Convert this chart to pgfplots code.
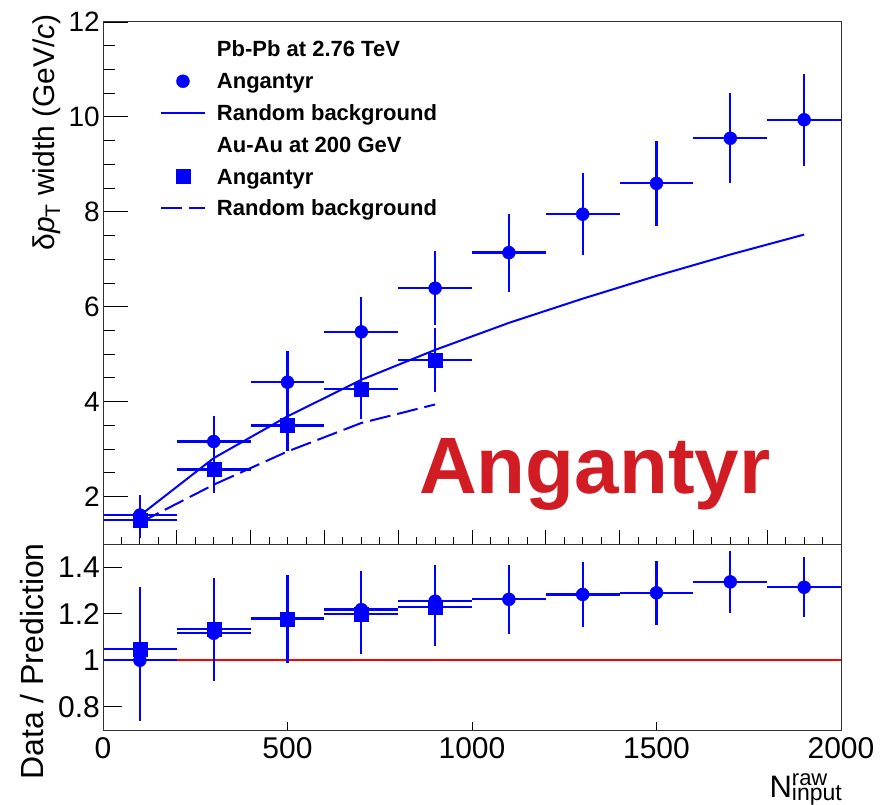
\documentclass[border=0pt]{standalone}
\usepackage{pgfplots}
\usepackage{pgfplotstable}
\pgfplotsset{compat=1.18}
\usepackage{fontspec}
\setmainfont{Liberation Sans}
\definecolor{angred}{RGB}{208,28,34}
\definecolor{framegray}{RGB}{50,50,50}

\pgfplotstableread{
x y ex ey
100 1.61 100 0.42
300 3.16 100 0.53
500 4.41 100 0.65
700 5.47 100 0.74
900 6.39 100 0.78
1100 7.14 100 0.82
1300 7.95 100 0.87
1500 8.60 100 0.90
1700 9.55 100 0.95
1900 9.94 100 0.97
}\pbpb

\pgfplotstableread{
x y ex ey
100 1.51 100 0.38
300 2.57 100 0.49
500 3.50 100 0.55
700 4.27 100 0.63
900 4.88 100 0.67
}\auau

\pgfplotstableread{
x b
100 1.60
300 2.81
500 3.69
700 4.46
900 5.09
1100 5.66
1300 6.17
1500 6.65
1700 7.10
1900 7.52
}\pbbkg

\pgfplotstableread{
x b
100 1.45
300 2.25
500 2.95
700 3.55
900 3.94
}\aubkg

\pgfplotstableread{
x y ex ey
100 1.000 100 0.26
300 1.116 100 0.205
500 1.180 100 0.17
700 1.218 100 0.167
900 1.254 100 0.156
1100 1.262 100 0.147
1300 1.283 100 0.14
1500 1.290 100 0.139
1700 1.337 100 0.134
1900 1.314 100 0.13
}\pbratio

\pgfplotstableread{
x y ex ey
100 1.047 100 0.27
300 1.133 100 0.22
500 1.178 100 0.19
700 1.200 100 0.174
900 1.228 100 0.168
}\auratio

\pgfplotsset{
  lineleg/.style={legend image code/.code={\draw[##1] (0pt,0pt) -- (44pt,0pt);}},
  markleg/.style={legend image code/.code={\draw[mark repeat=2,mark phase=2,##1] plot coordinates {(0pt,0pt) (22pt,0pt) (44pt,0pt)};}},
  errs/.style={error bars/.cd, x dir=both, x explicit, y dir=both, y explicit,
    error mark=none, error bar style={line width=2.3pt, blue}},
  frame/.style={axis line style={framegray, line width=1pt},
    every tick/.style={black, line width=0.9pt},
    tick pos=left, tick align=inside,
    /pgf/number format/assume math mode=true},
}

\begin{document}
\begin{tikzpicture}
\path[use as bounding box] (0pt,0pt) rectangle (881pt,-805pt);

% ---------- upper pad: y ticks and data ----------
\begin{axis}[
  at={(103pt,-22pt)}, anchor=north west,
  width=738pt, height=522pt, scale only axis,
  xmin=0, xmax=2000, ymin=1, ymax=12,
  frame,
  xtick=\empty,
  ytick={2,4,6,8,10,12},
  minor ytick={1.5,2.5,3,3.5,4.5,5,5.5,6.5,7,7.5,8.5,9,9.5,10.5,11,11.5},
  major tick length=25pt, minor tick length=12pt,
  yticklabel style={font=\fontsize{28}{28}\selectfont, inner sep=0pt, xshift=-3pt},
  legend cell align=left,
  legend style={at={(0.0772,0.9676)}, anchor=north west, draw=none, fill=none,
    inner sep=0pt, outer sep=0pt,
    font=\bfseries\fontsize{22}{22}\selectfont, row sep=10.8pt, column sep=11pt,
    nodes={inner sep=0pt, text height=18pt, text depth=3pt}},
]
\addlegendimage{empty legend}
\addlegendentry{Pb-Pb at 2.76 TeV}
\addplot[blue, only marks, mark=*, mark size=6.5pt, markleg, errs]
  table[x=x, y=y, x error=ex, y error=ey] {\pbpb};
\addlegendentry{Angantyr}
\addplot[blue, line width=2pt, lineleg] table[x=x, y=b] {\pbbkg};
\addlegendentry{Random background}
\addlegendimage{empty legend}
\addlegendentry{Au-Au at 200 GeV}
\addplot[blue, only marks, mark=square*, mark size=7pt, markleg, errs]
  table[x=x, y=y, x error=ex, y error=ey] {\auau};
\addlegendentry{Angantyr}
\addplot[blue, line width=2pt, dash pattern=on 21pt off 7pt, lineleg] table[x=x, y=b] {\aubkg};
\addlegendentry{Random background}
\end{axis}

% ---------- upper pad: x ticks ----------
\begin{axis}[
  at={(103pt,-22pt)}, anchor=north west,
  width=738pt, height=522pt, scale only axis,
  xmin=0, xmax=2000, ymin=1, ymax=12,
  frame,
  ytick=\empty,
  xtick={0,200,...,2000}, minor x tick num=3, xticklabels=\empty,
  major tick length=14pt, minor tick length=7pt,
]
\end{axis}

% ---------- lower pad: y ticks and data ----------
\begin{axis}[
  at={(103pt,-544pt)}, anchor=north west,
  width=738pt, height=186pt, scale only axis,
  xmin=0, xmax=2000, ymin=0.7, ymax=1.5,
  frame,
  xtick=\empty,
  ytick={0.8,1,1.2,1.4},
  major tick length=19pt,
  yticklabel style={font=\fontsize{30}{30}\selectfont, inner sep=0pt, xshift=-3pt},
]
\addplot[red, line width=2pt] coordinates {(0,1) (2000,1)};
\addplot[blue, only marks, mark=square*, mark size=7pt, errs]
  table[x=x, y=y, x error=ex, y error=ey] {\auratio};
\addplot[blue, only marks, mark=*, mark size=6.5pt, errs]
  table[x=x, y=y, x error=ex, y error=ey] {\pbratio};
\end{axis}

% ---------- lower pad: x ticks ----------
\begin{axis}[
  at={(103pt,-544pt)}, anchor=north west,
  width=738pt, height=186pt, scale only axis,
  xmin=0, xmax=2000, ymin=0.7, ymax=1.5,
  frame,
  ytick=\empty,
  xtick={0,500,1000,1500,2000},
  xticklabels={0,500,1000,1500,2000},
  major tick length=8pt,
  xticklabel style={font=\fontsize{30}{30}\selectfont, inner sep=0pt, yshift=-7pt},
]
\end{axis}

% ---------- titles ----------
\node[rotate=90, anchor=base east, inner sep=0pt, font=\fontsize{30}{30}\selectfont]
  at (54pt,-14pt) {δ\textit{p}\raisebox{-6pt}{\fontsize{21}{21}\selectfont T} width (GeV/\textit{c})};
\node[rotate=90, anchor=base east, inner sep=0pt, font=\fontsize{32}{32}\selectfont]
  at (43pt,-543pt) {Data / Prediction};
\node[anchor=base east, inner sep=0pt, font=\fontsize{31}{31}\selectfont]
  at (842pt,-797pt) {N\makebox[0pt][l]{\raisebox{11.5pt}{\fontsize{22}{22}\selectfont raw}}\raisebox{-3pt}{\fontsize{23}{23}\selectfont input}};
\node[anchor=base west, inner sep=0pt, text=angred, font=\bfseries\fontsize{80}{80}\selectfont]
  at (419pt,-493pt) {Angantyr};
\end{tikzpicture}
\end{document}
